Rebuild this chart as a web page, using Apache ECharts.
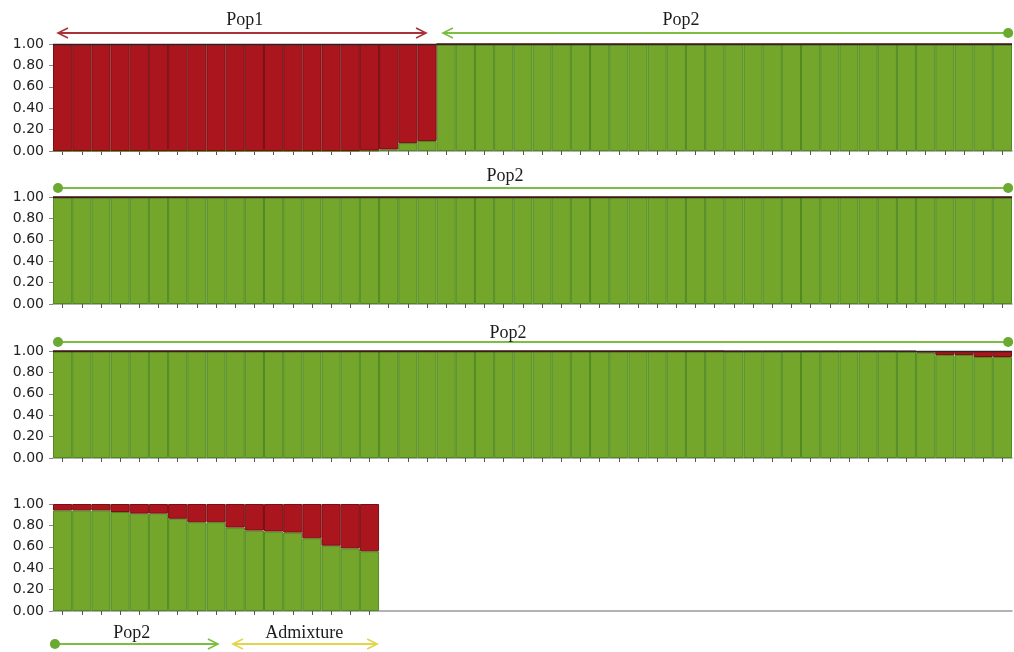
<!DOCTYPE html>
<html>
<head>
<meta charset="utf-8">
<script src="https://cdn.jsdelivr.net/npm/echarts@6/dist/echarts.min.js"></script>
<style>
  html, body { margin: 0; padding: 0; background: #fff; }
  #chart { width: 1014px; height: 652px; }
</style>
</head>
<body>
<div id="chart"></div>
<script>
// Individuals per panel (50 slots; the last panel only holds 17 individuals)
const individuals = Array.from({ length: 50 }, (_, i) => String(i + 1));

// Y-axis tick values (membership coefficient)
const yTicks = [0, 0.2, 0.4, 0.6, 0.8, 1.0];

// Membership in cluster 2 (green) for each individual; cluster 1 (red) is the remainder
const q2Row1 = [
  0, 0, 0, 0, 0, 0, 0, 0, 0, 0,
  0, 0, 0, 0, 0, 0, 0.004, 0.015, 0.074, 0.093,
  1, 1, 1, 1, 1, 1, 1, 1, 1, 1,
  1, 1, 1, 1, 1, 1, 1, 1, 1, 1,
  1, 1, 1, 1, 1, 1, 1, 1, 1, 1
];
const q2Row2 = [
  1, 1, 1, 1, 1, 1, 1, 1, 1, 1,
  1, 1, 1, 1, 1, 1, 1, 1, 1, 1,
  1, 1, 1, 1, 1, 1, 1, 1, 1, 1,
  1, 1, 1, 1, 1, 1, 1, 1, 1, 1,
  1, 1, 1, 1, 1, 1, 1, 1, 1, 1
];
const q2Row3 = [
  1, 1, 1, 1, 1, 1, 1, 1, 1, 1,
  1, 1, 1, 1, 1, 1, 1, 1, 1, 1,
  1, 1, 1, 1, 1, 1, 1, 1, 1, 1,
  1, 1, 1, 1, 1, 0.997, 0.997, 0.997, 0.997, 0.997,
  0.997, 0.997, 0.997, 0.997, 0.996, 0.985, 0.963, 0.963, 0.944, 0.944
];
const q2Row4 = [
  0.94, 0.94, 0.94, 0.925, 0.91, 0.91, 0.862, 0.83, 0.83, 0.78,
  0.752, 0.743, 0.733, 0.68, 0.61, 0.585, 0.558
];

// Group brackets drawn over / under each panel (positions in bar units from the panel's left edge)
const groupsRow1 = [
  { label: 'Pop1', from: 0.26, to: 19.45, text: 10.0, color: '#a8323b', start: 'arrow', end: 'arrow' },
  { label: 'Pop2', from: 20.33, to: 49.8, text: 32.74, color: '#7cbd44', start: 'arrow', end: 'dot' }
];
const groupsRow2 = [
  { label: 'Pop2', from: 0.26, to: 49.8, text: 23.57, color: '#7cbd44', start: 'dot', end: 'dot' }
];
const groupsRow3 = [
  { label: 'Pop2', from: 0.26, to: 49.8, text: 23.72, color: '#7cbd44', start: 'dot', end: 'dot' }
];
const groupsRow4 = [
  { label: 'Pop2', from: 0.1, to: 8.6, text: 4.1, color: '#7cbd44', start: 'dot', end: 'arrow' },
  { label: 'Admixture', from: 9.38, to: 16.9, text: 13.1, color: '#e3d54a', start: 'arrow', end: 'arrow' }
];

const GREEN = '#73a62b', GREEN_EDGE = '#4f8a20';
const RED = '#ab151d', RED_EDGE = '#7a0e13';

const panels = [
  { q2: q2Row1, groups: groupsRow1, top: 44, above: true, lineOff: 11, textOff: 24 },
  { q2: q2Row2, groups: groupsRow2, top: 197, above: true, lineOff: 9, textOff: 21 },
  { q2: q2Row3, groups: groupsRow3, top: 351, above: true, lineOff: 9, textOff: 18 },
  { q2: q2Row4, groups: groupsRow4, top: 504, above: false, lineOff: 33, textOff: 22 }
];
const PANEL_H = 107;

const chart = echarts.init(document.getElementById('chart'), null, { renderer: 'canvas' });

const grid = [], xAxis = [], yAxis = [], series = [];
panels.forEach((p, r) => {
  const n = p.q2.length;
  grid.push({ left: 53, right: 2, top: p.top, height: PANEL_H, containLabel: false });
  xAxis.push({
    type: 'category', gridIndex: r, data: individuals, boundaryGap: true,
    axisLine: { show: true, lineStyle: { color: '#9a9a9a', width: 1.5 } },
    axisTick: {
      show: true, alignWithLabel: true, length: 4,
      interval: (idx) => idx < n,
      lineStyle: { color: '#555', width: 1 }
    },
    axisLabel: { show: false },
    splitLine: { show: false }
  });
  yAxis.push({
    type: 'value', gridIndex: r, min: yTicks[0], max: yTicks[yTicks.length - 1], interval: 0.2,
    axisLine: { show: false },
    axisTick: { show: true, length: 4, lineStyle: { color: '#888' } },
    axisLabel: {
      margin: 9, color: '#222', fontSize: 14, fontFamily: 'DejaVu Sans',
      formatter: (v) => v.toFixed(2)
    },
    splitLine: { show: false }
  });
  series.push({
    type: 'bar', xAxisIndex: r, yAxisIndex: r, stack: 'q' + r,
    barCategoryGap: '0%', barGap: '0%',
    data: p.q2,
    itemStyle: { color: GREEN, borderColor: GREEN_EDGE, borderWidth: 1 },
    silent: true
  });
  const redSeries = {
    type: 'bar', xAxisIndex: r, yAxisIndex: r, stack: 'q' + r,
    barCategoryGap: '0%', barGap: '0%',
    data: p.q2.map(v => +(1 - v).toFixed(3)),
    itemStyle: { color: RED, borderColor: RED_EDGE, borderWidth: 1 },
    silent: true
  };
  if (p.above) {
    redSeries.markLine = {
      silent: true, symbol: 'none', label: { show: false },
      lineStyle: { color: '#2c2424', width: 1.3, type: 'solid' },
      data: [{ yAxis: 1 }]
    };
  }
  series.push(redSeries);
});

chart.setOption({
  animation: false,
  backgroundColor: '#ffffff',
  grid, xAxis, yAxis, series
});

// Bracket annotations placed with the category axis scale
function cap(kind, x, y, dir, color) {
  if (kind === 'dot') {
    return { type: 'circle', shape: { cx: x, cy: y, r: 5 }, style: { fill: '#6aaa30' }, silent: true };
  }
  return {
    type: 'polyline', silent: true,
    shape: { points: [[x + dir * 10, y - 5], [x, y], [x + dir * 10, y + 5]] },
    style: { stroke: color, lineWidth: 1.6, fill: null }
  };
}

const elements = [];
panels.forEach((p, r) => {
  const c0 = chart.convertToPixel({ xAxisIndex: r }, individuals[0]);
  const c1 = chart.convertToPixel({ xAxisIndex: r }, individuals[1]);
  const bw = c1 - c0;
  const left = c0 - bw / 2;
  const yTop = chart.convertToPixel({ yAxisIndex: r }, 1);
  const yBot = chart.convertToPixel({ yAxisIndex: r }, 0);
  const lineY = p.above ? yTop - p.lineOff : yBot + p.lineOff;
  const textY = p.above ? yTop - p.textOff : yBot + p.textOff;
  p.groups.forEach(g => {
    const x1 = left + g.from * bw, x2 = left + g.to * bw;
    elements.push({
      type: 'line', silent: true,
      shape: { x1, y1: lineY, x2, y2: lineY },
      style: { stroke: g.color, lineWidth: 1.8 }
    });
    elements.push(cap(g.start, x1, lineY, 1, g.color));
    elements.push(cap(g.end, x2, lineY, -1, g.color));
    elements.push({
      type: 'text', silent: true, x: left + g.text * bw, y: textY,
      style: {
        text: g.label, fill: '#1c1c1c', fontSize: 18, fontFamily: 'Liberation Serif',
        align: 'center', verticalAlign: 'middle'
      }
    });
  });
});
chart.setOption({ graphic: { elements } });
</script>
</body>
</html>
